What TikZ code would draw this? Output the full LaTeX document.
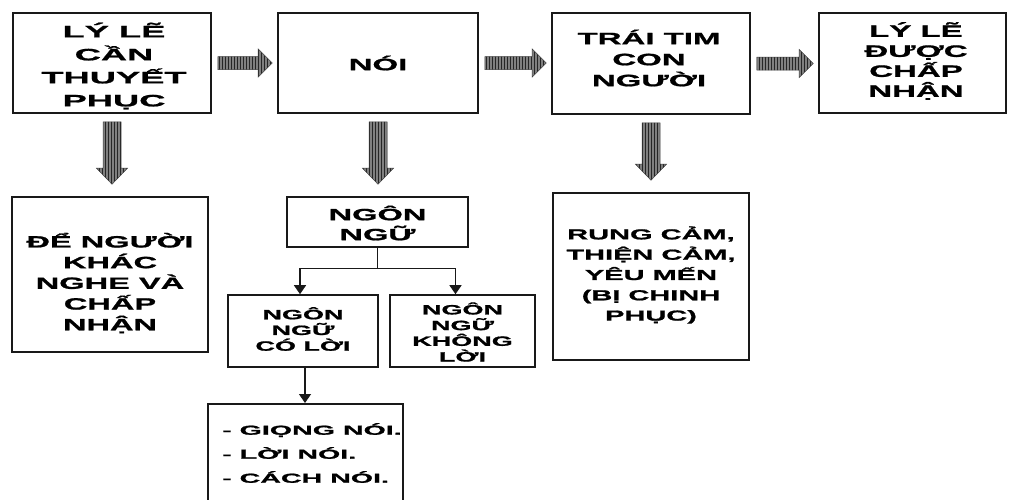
\documentclass[tikz,border=0pt]{standalone}
\usepackage{fontspec}
\newfontfamily\dfont[FakeStretch=2.0,FakeBold=1.2]{Liberation Sans Bold}
\newfontfamily\dwide[FakeStretch=2.2,FakeBold=1.2]{Liberation Sans Bold}
\usetikzlibrary{arrows.meta,calc,patterns}

\tikzset{
  box/.style={draw=black!90, line width=1.6pt, rectangle, inner sep=0pt},
  txt/.style={inner sep=0pt, align=center},
  fat/.style={draw=black!75, line width=0.5pt, preaction={fill=black!50},
              pattern={vertical lines}, pattern color=black!85},
  link/.style={line width=1.3pt, draw=black!90},
  tip/.style={-{Triangle[length=9pt,width=12pt]}}
}

% horizontal block arrow from the east side of #1 to the west side of #2
\newcommand\hfat[2]{%
  \path[fat] let \p1=(#1.east), \p2=(#2.west) in
    (\x1+6pt,\y1+6.5pt) -- (\x2-19pt,\y1+6.5pt) -- (\x2-19pt,\y1+14pt)
    -- (\x2-5pt,\y1) -- (\x2-19pt,\y1-14pt) -- (\x2-19pt,\y1-6.5pt)
    -- (\x1+6pt,\y1-6.5pt) -- cycle;}
% vertical block arrow from the south side of #1 to the north side of #2
\newcommand\vfat[2]{%
  \path[fat] let \p1=(#1.south), \p2=(#2.north) in
    (\x1-9pt,\y1-8pt) -- (\x1-9pt,\y2+28pt) -- (\x1-15.5pt,\y2+28pt)
    -- (\x1,\y2+12pt) -- (\x1+15.5pt,\y2+28pt) -- (\x1+9pt,\y2+28pt)
    -- (\x1+9pt,\y1-8pt) -- cycle;}

\begin{document}
\begin{tikzpicture}[x=1pt,y=-1pt]
\clip (0,0) rectangle (1010,499);
\useasboundingbox (0,0) rectangle (1010,499);

% top row
\node[box, minimum width=198, minimum height=100] (b1) at (112,63) {};
\node[txt, font=\dwide\fontsize{16.5}{23}\selectfont] (t1) at (114,66)
  {LÝ LẼ\\CẦN\\THUYẾT\\PHỤC};
\node[box, minimum width=200, minimum height=100] (b2) at (378,63) {};
\node[txt, font=\dfont\fontsize{16.5}{20}\selectfont] (t2) at (378,63) {NÓI};
\node[box, minimum width=198, minimum height=101] (b3) at (651,63.5) {};
\node[txt, font=\dfont\fontsize{16.5}{21}\selectfont] (t3) at (649,58)
  {TRÁI TIM\\CON\\NGƯỜI};
\node[box, minimum width=187, minimum height=100] (b4) at (912.5,63) {};
\node[txt, font=\dfont\fontsize{16.5}{20}\selectfont] (t4) at (916,61)
  {LÝ LẼ\\ĐƯỢC\\CHẤP\\NHẬN};

% second row
\node[box, minimum width=196, minimum height=155] (c1) at (110,274.5) {};
\node[txt, font=\dfont\fontsize{16.3}{20.7}\selectfont] (u1) at (110,283)
  {ĐỂ NGƯỜI\\KHÁC\\NGHE VÀ\\CHẤP\\NHẬN};
\node[box, minimum width=181, minimum height=50] (c2) at (377.5,222) {};
\node[txt, font=\dfont\fontsize{16.3}{20}\selectfont] (u2) at (377.5,223)
  {NGÔN\\NGỮ};
\node[box, minimum width=196, minimum height=167] (c3) at (651,276.5) {};
\node[txt, font=\dfont\fontsize{14.5}{20.3}\selectfont] (u3) at (651,275)
  {RUNG CẢM,\\THIỆN CẢM,\\YÊU MẾN\\(BỊ CHINH\\PHỤC)};

% language branches
\node[box, minimum width=150, minimum height=72] (d1) at (303,331) {};
\node[txt, font=\dfont\fontsize{13.5}{15.7}\selectfont] (v1) at (303,329)
  {NGÔN\\NGỮ\\CÓ LỜI};
\node[box, minimum width=145, minimum height=72] (d2) at (462.5,331) {};
\node[txt, font=\dfont\fontsize{13.5}{15.7}\selectfont] (v2) at (462.5,332)
  {NGÔN\\NGỮ\\KHÔNG\\LỜI};

% spoken language details
\node[box, anchor=north, minimum width=195, minimum height=130] (e1) at (305.5,403) {};
\node[txt, align=left, anchor=north west, font=\dwide\fontsize{13}{24}\selectfont]
  (w1) at (222,423) {- GIỌNG NÓI.\\- LỜI NÓI.\\- CÁCH NÓI.};

% block arrows
\hfat{b1}{b2}
\hfat{b2}{b3}
\hfat{b3}{b4}
\vfat{b1}{c1}
\vfat{b2}{c2}
\vfat{b3}{c3}

% branch connectors
\draw[link] (c2.south) -- ($(c2.south)+(0,21)$) coordinate (j);
\draw[link, tip] (j) -| ([xshift=-3pt]d1.north);
\draw[link, tip] (j) -| ([xshift=-7pt]d2.north);
\draw[link, tip] ([xshift=2pt]d1.south) -- ([xshift=2pt]d1.south |- e1.north);
\end{tikzpicture}
\end{document}
